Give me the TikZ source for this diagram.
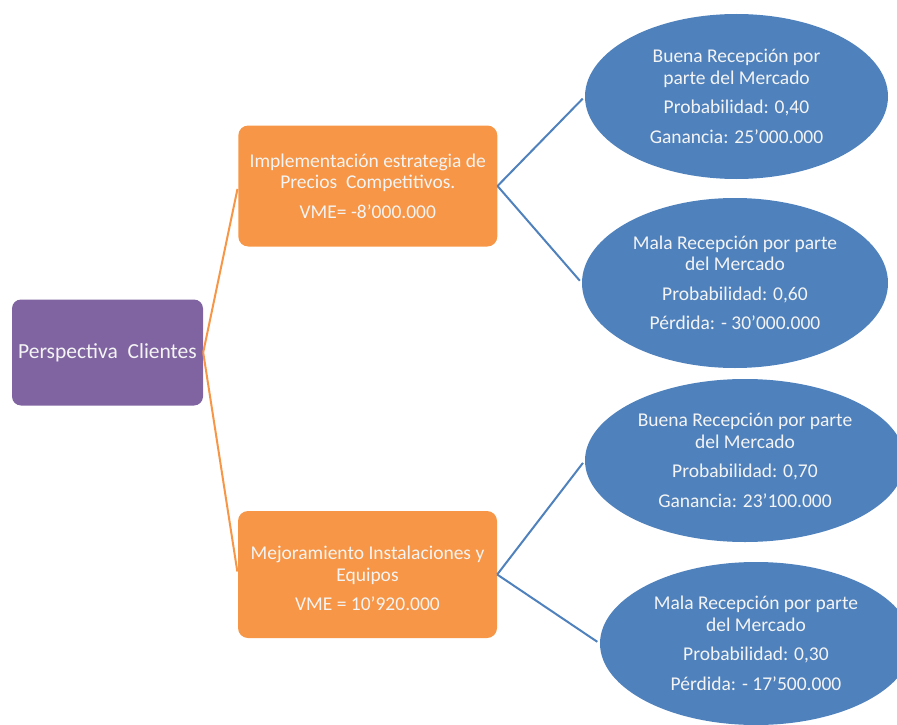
\documentclass[tikz,border=0pt]{standalone}
\usepackage{fontspec}
\setmainfont{Carlito}
\usetikzlibrary{shapes.geometric}

\definecolor{rootpurple}{HTML}{8064A2}
\definecolor{optorange}{HTML}{F79646}
\definecolor{outblue}{HTML}{4F81BD}
\definecolor{lighttext}{HTML}{F4F4F4}

\tikzset{
  rootbox/.style={rectangle, rounded corners=9pt, fill=rootpurple, draw=none,
    minimum width=191pt, minimum height=106pt, inner sep=0pt},
  optbox/.style={rectangle, rounded corners=10pt, fill=optorange, draw=none,
    minimum width=259pt, inner sep=0pt},
  outcome/.style={ellipse, fill=outblue, draw=none, inner sep=0pt},
  label/.style={text=lighttext, align=center, inner sep=0pt,
    font=\fontsize{19.5}{21.5}\selectfont},
  orangelink/.style={draw=optorange, line width=2pt, shorten >=3pt},
  bluelink/.style={draw=outblue, line width=2pt, shorten >=3pt},
}

\begin{document}
\begin{tikzpicture}[x=1pt, y=-1pt]
\useasboundingbox (0,0) rectangle (897,725);
\clip (0,0) rectangle (897,725);

% decision root
\node[rootbox] (root) at (107.5,352.5) {};
\node[label, font=\fontsize{21.5}{24}\selectfont] (rootlbl) at (root) {Perspectiva~~Clientes};

% alternatives
\node[optbox, minimum height=121pt] (alt1) at (367.8,186) {};
\node[label] (alt1lbl) at (alt1) {Implementación estrategia de\\Precios~~Competitivos.\\[8pt]VME= -8’000.000};

\node[optbox, minimum height=127pt] (alt2) at (367.5,574.5) {};
\node[label] (alt2lbl) at ([yshift=-4pt]alt2) {Mejoramiento Instalaciones y\\Equipos\\[8pt]VME = 10’920.000};

% market outcomes
\node[outcome, minimum width=303pt, minimum height=165pt] (o1) at (736.5,96.5) {};
\node[label] (o1lbl) at (o1) {Buena Recepción por\\parte del Mercado\\[8pt]Probabilidad: 0,40\\[8pt]Ganancia: 25’000.000};

\node[outcome, minimum width=306pt, minimum height=170pt] (o2) at (735,283) {};
\node[label] (o2lbl) at (o2) {Mala Recepción por parte\\del Mercado\\[8pt]Probabilidad: 0,60\\[8pt]Pérdida: - 30’000.000};

\node[outcome, minimum width=320pt, minimum height=163pt] (o3) at (745,460.5) {};
\node[label] (o3lbl) at (o3) {Buena Recepción por parte\\del Mercado\\[8pt]Probabilidad: 0,70\\[8pt]Ganancia: 23’100.000};

\node[outcome, minimum width=312pt, minimum height=163pt] (o4) at (756,643.5) {};
\node[label] (o4lbl) at (o4) {Mala Recepción por parte\\del Mercado\\[8pt]Probabilidad: 0,30\\[8pt]Pérdida: - 17’500.000};

% connectors
\draw[orangelink] (root.east) -- (alt1.west);
\draw[orangelink] (root.east) -- (alt2.west);
\draw[bluelink] (alt1.east) -- (o1.west);
\draw[bluelink] (alt1.east) -- (o2.west);
\draw[bluelink] (alt2.east) -- (o3.west);
\draw[bluelink] (alt2.east) -- (o4.west);
\end{tikzpicture}
\end{document}
